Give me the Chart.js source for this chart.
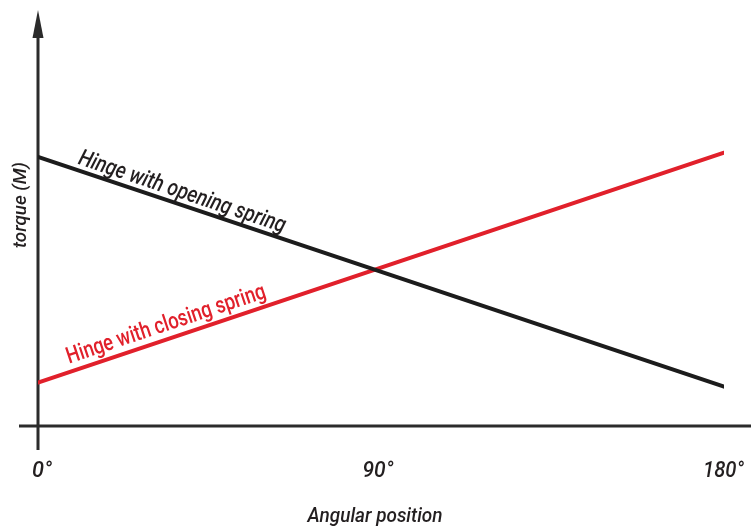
<!DOCTYPE html>
<html>
<head>
<meta charset="utf-8">
<script src="https://cdn.jsdelivr.net/npm/chart.js@4.4.1/dist/chart.umd.min.js"></script>
<style>
  html, body { margin: 0; padding: 0; background: #fff; }
  #wrap { width: 751px; height: 528px; position: relative; }
</style>
</head>
<body>
<div id="wrap"><canvas id="chartHinge"></canvas></div>
<script>
// data (torque in arbitrary units)
var angles = [0, 180];
var openingSpring = [6.5, 0.95];
var closingSpring = [1.05, 6.6];
var tickValues = [0, 90, 180];
var tickLabels = ['0°', '90°', '180°'];
var seriesNames = ['Hinge with opening spring', 'Hinge with closing spring'];

var FONT = 'Roboto, "Liberation Sans", sans-serif';
var INK = '#231f20';
var RED = '#e1202b';

// draw text squeezed horizontally to a given width (condensed look)
function condensedText(ctx, text, x, y, width, align) {
    var w = ctx.measureText(text).width;
    var k = width / w;
    ctx.save();
    ctx.translate(x, y);
    ctx.scale(k, 1);
    ctx.textAlign = align || 'left';
    ctx.fillText(text, 0, 0);
    ctx.restore();
}

// axes with arrow, tick labels, titles and line labels
var sketchPlugin = {
    id: 'sketch',
    beforeDatasetsDraw: function (chart) {
        var ctx = chart.ctx;
        var a = chart.chartArea;
        var xs = chart.scales.x;
        ctx.save();
        ctx.strokeStyle = '#2b2b2b';
        ctx.lineWidth = 3;
        ctx.beginPath();
        ctx.moveTo(19, a.bottom);
        ctx.lineTo(chart.width, a.bottom);
        ctx.moveTo(a.left, a.bottom + 24);
        ctx.lineTo(a.left, a.top + 20);
        ctx.stroke();
        // arrow head
        ctx.fillStyle = '#2b2b2b';
        ctx.beginPath();
        ctx.moveTo(a.left, a.top - 2);
        ctx.lineTo(a.left + 5.5, a.top + 26);
        ctx.lineTo(a.left - 5.5, a.top + 26);
        ctx.closePath();
        ctx.fill();

        // tick labels
        ctx.fillStyle = INK;
        ctx.font = 'italic 500 22px ' + FONT;
        ctx.textBaseline = 'middle';
        var tickWidths = [20, 31, 41];
        var tickOffsets = [4, -3, 20];
        for (var i = 0; i < tickValues.length; i++) {
            var px = xs.getPixelForValue(tickValues[i]);
            var align = i === tickValues.length - 1 ? 'right' : 'center';
            condensedText(ctx, tickLabels[i], px + tickOffsets[i], a.bottom + 45, tickWidths[i], align);
        }
        ctx.font = 'italic 500 21px ' + FONT;
        condensedText(ctx, 'Angular position', 375, a.bottom + 91, 135, 'center');

        // y title
        ctx.save();
        ctx.translate(21, 205);
        ctx.rotate(-Math.PI / 2);
        ctx.font = 'italic 500 19px ' + FONT;
        condensedText(ctx, 'torque (M)', 0, 0, 86, 'center');
        ctx.restore();
        ctx.restore();
    },
    afterDatasetsDraw: function (chart) {
        var ctx = chart.ctx;
        var xs = chart.scales.x;
        var ys = chart.scales.y;
        var specs = [
            { data: openingSpring, at: 9.8, color: INK, style: 'italic 500 ', lift: 6, width: 217 },
            { data: closingSpring, at: 8.8, color: RED, style: '500 ', lift: 8, width: 209 }
        ];
        specs.forEach(function (s, k) {
            var x0 = xs.getPixelForValue(angles[0]), y0 = ys.getPixelForValue(s.data[0]);
            var x1 = xs.getPixelForValue(angles[1]), y1 = ys.getPixelForValue(s.data[1]);
            var ang = Math.atan2(y1 - y0, x1 - x0);
            var px = xs.getPixelForValue(s.at);
            var t = (px - x0) / (x1 - x0);
            var py = y0 + t * (y1 - y0);
            ctx.save();
            ctx.translate(px, py);
            ctx.rotate(ang);
            ctx.fillStyle = s.color;
            ctx.font = s.style + '23px ' + FONT;
            ctx.textBaseline = 'alphabetic';
            condensedText(ctx, seriesNames[k], 0, -s.lift, s.width, 'left');
            ctx.restore();
        });
    }
};

var ctx = document.getElementById('chartHinge').getContext('2d');
var chart = new Chart(ctx, {
    type: 'line',
    data: {
        labels: angles,
        datasets: [{
            label: seriesNames[0],
            data: angles.map(function (a, i) { return { x: a, y: openingSpring[i] }; }),
            borderColor: '#1c1c1c',
            borderWidth: 4,
            pointRadius: 0,
            borderCapStyle: 'round'
        }, {
            label: seriesNames[1],
            data: angles.map(function (a, i) { return { x: a, y: closingSpring[i] }; }),
            borderColor: RED,
            borderWidth: 4,
            pointRadius: 0,
            borderCapStyle: 'round'
        }]
    },
    options: {
        responsive: true,
        maintainAspectRatio: false,
        animation: false,
        layout: { padding: { left: 38, right: 27, top: 12, bottom: 102 } },
        plugins: { legend: { display: false }, tooltip: { enabled: false } },
        scales: {
            x: { type: 'linear', min: 0, max: 180, display: false },
            y: { min: 0, max: 10, display: false }
        }
    },
    plugins: [sketchPlugin]
});
</script>
</body>
</html>
